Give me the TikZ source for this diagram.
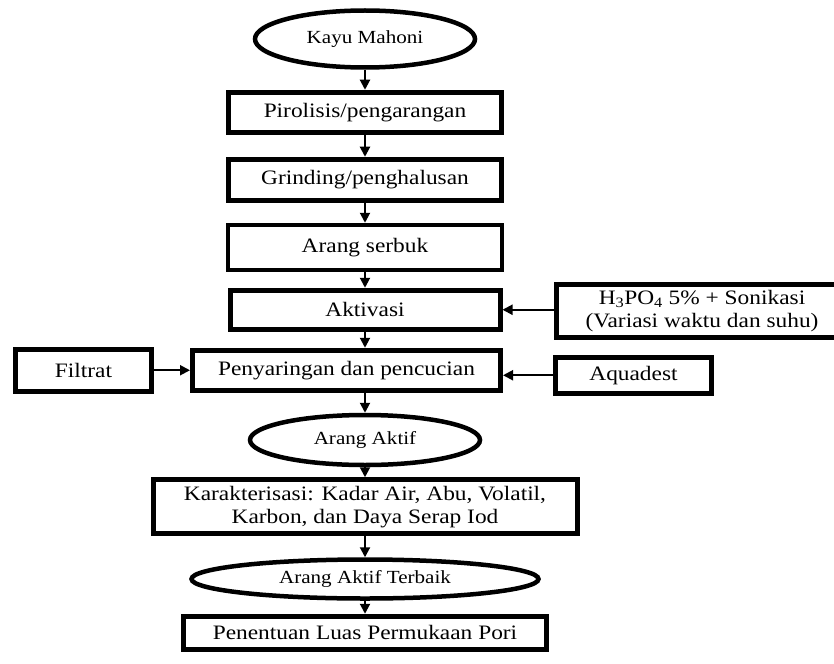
\documentclass[tikz,border=0pt]{standalone}
\usepackage{fontspec}
\setmainfont{Liberation Serif}[FakeStretch=1.14]
\usetikzlibrary{positioning, arrows.meta, shapes.geometric}
\tikzset{
  % Process step (thick rectangle)
  proc/.style={
    draw, rectangle, line width=5pt, align=center, inner sep=2pt,
    font=\fontsize{20.5}{23}\selectfont
  },
  % Start / result (thick ellipse)
  term/.style={
    draw, ellipse, line width=4.5pt, align=center, inner sep=0pt,
    font=\fontsize{18.5}{21}\selectfont
  },
  % Arrow: flow
  arr/.style={
    draw, line width=2pt, -{Triangle[length=10pt, width=10pt]}
  }
}

\begin{document}
\begin{tikzpicture}[x=1pt, y=1pt]
\useasboundingbox (0,0) rectangle (834,-663);

% ============================================================
% MAIN COLUMN
% ============================================================
\node[term, minimum width=220pt, minimum height=57pt] (kayu) at (365,-39) {Kayu Mahoni};
\node[proc, minimum width=273pt, minimum height=40pt, below=20pt of kayu] (pirolisis) {Pirolisis/pengarangan};
\node[proc, minimum width=273pt, minimum height=41pt, below=22pt of pirolisis] (grinding) {Grinding/penghalusan};
\node[proc, line width=4pt, minimum width=274pt, minimum height=45pt, below=20pt of grinding] (serbuk) {Arang serbuk};
\node[proc, minimum width=270pt, minimum height=39pt, below=16pt of serbuk] (aktivasi) {Aktivasi};

% Penyaringan (shifted left of the column)
\node[proc, minimum width=308pt, minimum height=40pt, below=16pt of aktivasi, xshift=-18.5pt] (saring) {Penyaringan dan pencucian};

\node[term, minimum width=230pt, minimum height=50pt, below=20pt of saring, xshift=18.5pt] (aktif) {Arang Aktif};
\node[proc, minimum width=424pt, minimum height=54pt, below=10pt of aktif] (karakter) {
  Karakterisasi: Kadar Air, Abu, Volatil,\\
  Karbon, dan Daya Serap Iod};
\node[term, minimum width=347pt, minimum height=39pt, below=21pt of karakter] (terbaik) {Arang Aktif Terbaik};
\node[proc, minimum width=363pt, minimum height=33pt, below=13pt of terbaik] (luas) {Penentuan Luas Permukaan Pori};

% ============================================================
% SIDE INPUTS / OUTPUTS
% ============================================================
\node[proc, minimum width=292pt, minimum height=53pt, right=51pt of aktivasi, yshift=-1pt] (asam) {
  H\textsubscript{3}PO\textsubscript{4} 5\% + Sonikasi\\
  (Variasi waktu dan suhu)};
\node[proc, minimum width=156pt, minimum height=36pt, right=50pt of saring, yshift=-5pt] (aquadest) {Aquadest};
\node[proc, minimum width=136pt, minimum height=42pt, left=36pt of saring] (filtrat) {Filtrat};

% ============================================================
% ARROWS
% ============================================================
\draw[arr] (kayu.south) -- (pirolisis.north);
\draw[arr] (pirolisis.south) -- (grinding.north);
\draw[arr] (grinding.south) -- (serbuk.north);
\draw[arr] (serbuk.south) -- (aktivasi.north);
\draw[arr] (aktivasi.south) -- (aktivasi.south |- saring.north);
\draw[arr] (aktif.north |- saring.south) -- (aktif.north);
\draw[arr] (aktif.south) -- (karakter.north);
\draw[arr] (karakter.south) -- (terbaik.north);
\draw[arr] (terbaik.south) -- (luas.north);

% side arrows
\draw[arr] (asam.west |- aktivasi.east) -- (aktivasi.east);
\draw[arr] (aquadest.west) -- (aquadest.west -| saring.east);
\draw[arr] (filtrat.east) -- (filtrat.east -| saring.west);

\end{tikzpicture}
\end{document}
